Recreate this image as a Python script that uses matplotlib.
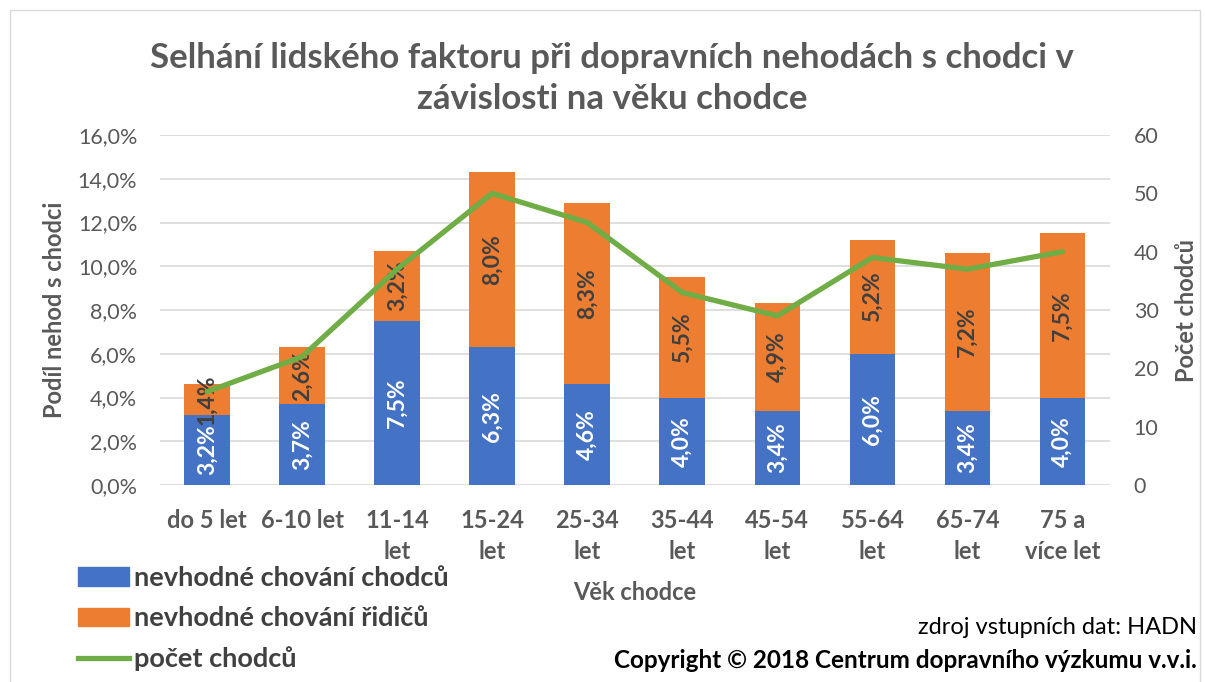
import matplotlib
matplotlib.use("Agg")
import matplotlib.pyplot as plt
import matplotlib.patches as patches
from matplotlib.lines import Line2D
from matplotlib.ticker import FuncFormatter, MultipleLocator
import numpy as np

# age groups and shares of pedestrian accidents (%)
categories = ["do 5 let", "6-10 let", "11-14\nlet", "15-24\nlet", "25-34\nlet",
              "35-44\nlet", "45-54\nlet", "55-64\nlet", "65-74\nlet", "75 a\nvíce let"]
chodci = [3.2, 3.7, 7.5, 6.3, 4.6, 4.0, 3.4, 6.0, 3.4, 4.0]
ridici = [1.4, 2.6, 3.2, 8.0, 8.3, 5.5, 4.9, 5.2, 7.2, 7.5]
pocet = [16, 22, 37, 50, 45, 33, 29, 39, 37, 40]

BLUE = "#4472C4"
ORANGE = "#ED7D31"
GREEN = "#70AD47"
GRAY = "#595959"
DARK = "#404040"

plt.rcParams['font.family'] = ['Lato', 'DejaVu Sans']

W, H = 1205, 682
fig = plt.figure(figsize=(W / 100, H / 100), dpi=100)

# thin chart border
fig.patches.append(patches.Rectangle((10 / W, -0.1), 1190 / W, 1.1 - 10 / H,
                                     transform=fig.transFigure, fill=False,
                                     edgecolor="#D9D9D9", linewidth=1))

left, right, top, bottom = 159.5, 1110, 135, 485
ax = fig.add_axes([left / W, 1 - bottom / H, (right - left) / W, (bottom - top) / H])
ax2 = ax.twinx()

x = np.arange(len(categories))
ax.bar(x, chodci, width=0.48, color=BLUE, zorder=2)
ax.bar(x, ridici, width=0.48, bottom=chodci, color=ORANGE, zorder=2)

for i in range(len(x)):
    ax.text(x[i], chodci[i] / 2, f"{chodci[i]:.1f}%".replace(".", ","),
            rotation=90, ha="center", va="center", color="white",
            fontsize=16.5, fontweight="bold", zorder=3)
    ax.text(x[i], chodci[i] + ridici[i] / 2, f"{ridici[i]:.1f}%".replace(".", ","),
            rotation=90, ha="center", va="center", color=DARK,
            fontsize=16.5, fontweight="bold", zorder=3)

ax.set_xlim(-0.5, len(x) - 0.5)
ax.set_ylim(0, 16)
ax.yaxis.set_major_locator(MultipleLocator(2))
ax.yaxis.set_major_formatter(FuncFormatter(lambda v, p: f"{v:.1f}%".replace(".", ",")))
ax.grid(axis="y", color="#D9D9D9", linewidth=1.2, zorder=0)
ax.set_axisbelow(True)
ax.set_xticks(x)
ax.set_xticklabels(categories, fontsize=17, fontweight="bold", color=GRAY,
                   linespacing=1.42, va="top")
ax.tick_params(axis="x", length=0, pad=17)
ax.tick_params(axis="y", length=0, labelsize=15.5, labelcolor=GRAY, pad=16)

ax2.plot(x, pocet, color=GREEN, linewidth=3.8, solid_capstyle="round", zorder=4)
ax2.set_ylim(0, 60)
ax2.yaxis.set_major_locator(MultipleLocator(10))
ax2.tick_params(axis="y", length=0, labelsize=15.5, labelcolor=GRAY, pad=17)

for a in (ax, ax2):
    for s in a.spines.values():
        s.set_visible(False)

# axis titles
fig.text(55 / W, 1 - 310 / H, "Podíl nehod s chodci", rotation=90, ha="center",
         va="center", fontsize=17, fontweight="bold", color=GRAY)
fig.text(1186 / W, 1 - 310 / H, "Počet chodců", rotation=90, ha="center",
         va="center", fontsize=17, fontweight="bold", color=GRAY)
fig.text(0.5 * (left + right) / W, 1 - 592 / H, "Věk chodce", ha="center",
         va="center", fontsize=17, fontweight="bold", color=GRAY)

fig.text(612 / W, 1 - 78.5 / H,
         "Selhání lidského faktoru při dopravních nehodách s chodci v\nzávislosti na věku chodce",
         ha="center", va="center", fontsize=25, fontweight="bold", color=GRAY,
         linespacing=1.34)

handles = [patches.Patch(color=BLUE), patches.Patch(color=ORANGE),
           Line2D([], [], color=GREEN, linewidth=3.8)]
labels = ["nevhodné chování chodců", "nevhodné chování řidičů", "počet chodců"]
fig.legend(handles, labels, loc="upper left", bbox_to_anchor=(78 / W, 1 - 566 / H),
           frameon=False, prop={"weight": "bold", "size": 19.5},
           labelcolor=DARK, handlelength=1.9, handleheight=0.66,
           handletextpad=0.15, labelspacing=0.6, borderpad=0, borderaxespad=0)

fig.text(1197 / W, 1 - 627 / H, "zdroj vstupních dat: HADN", ha="right", va="center",
         fontsize=17, color="black")
fig.text(1197 / W, 1 - 660 / H, "Copyright © 2018 Centrum dopravního výzkumu v.v.i.",
         ha="right", va="center", fontsize=17.5, fontweight="bold", color="black")

fig.savefig("out.png", dpi=100)
